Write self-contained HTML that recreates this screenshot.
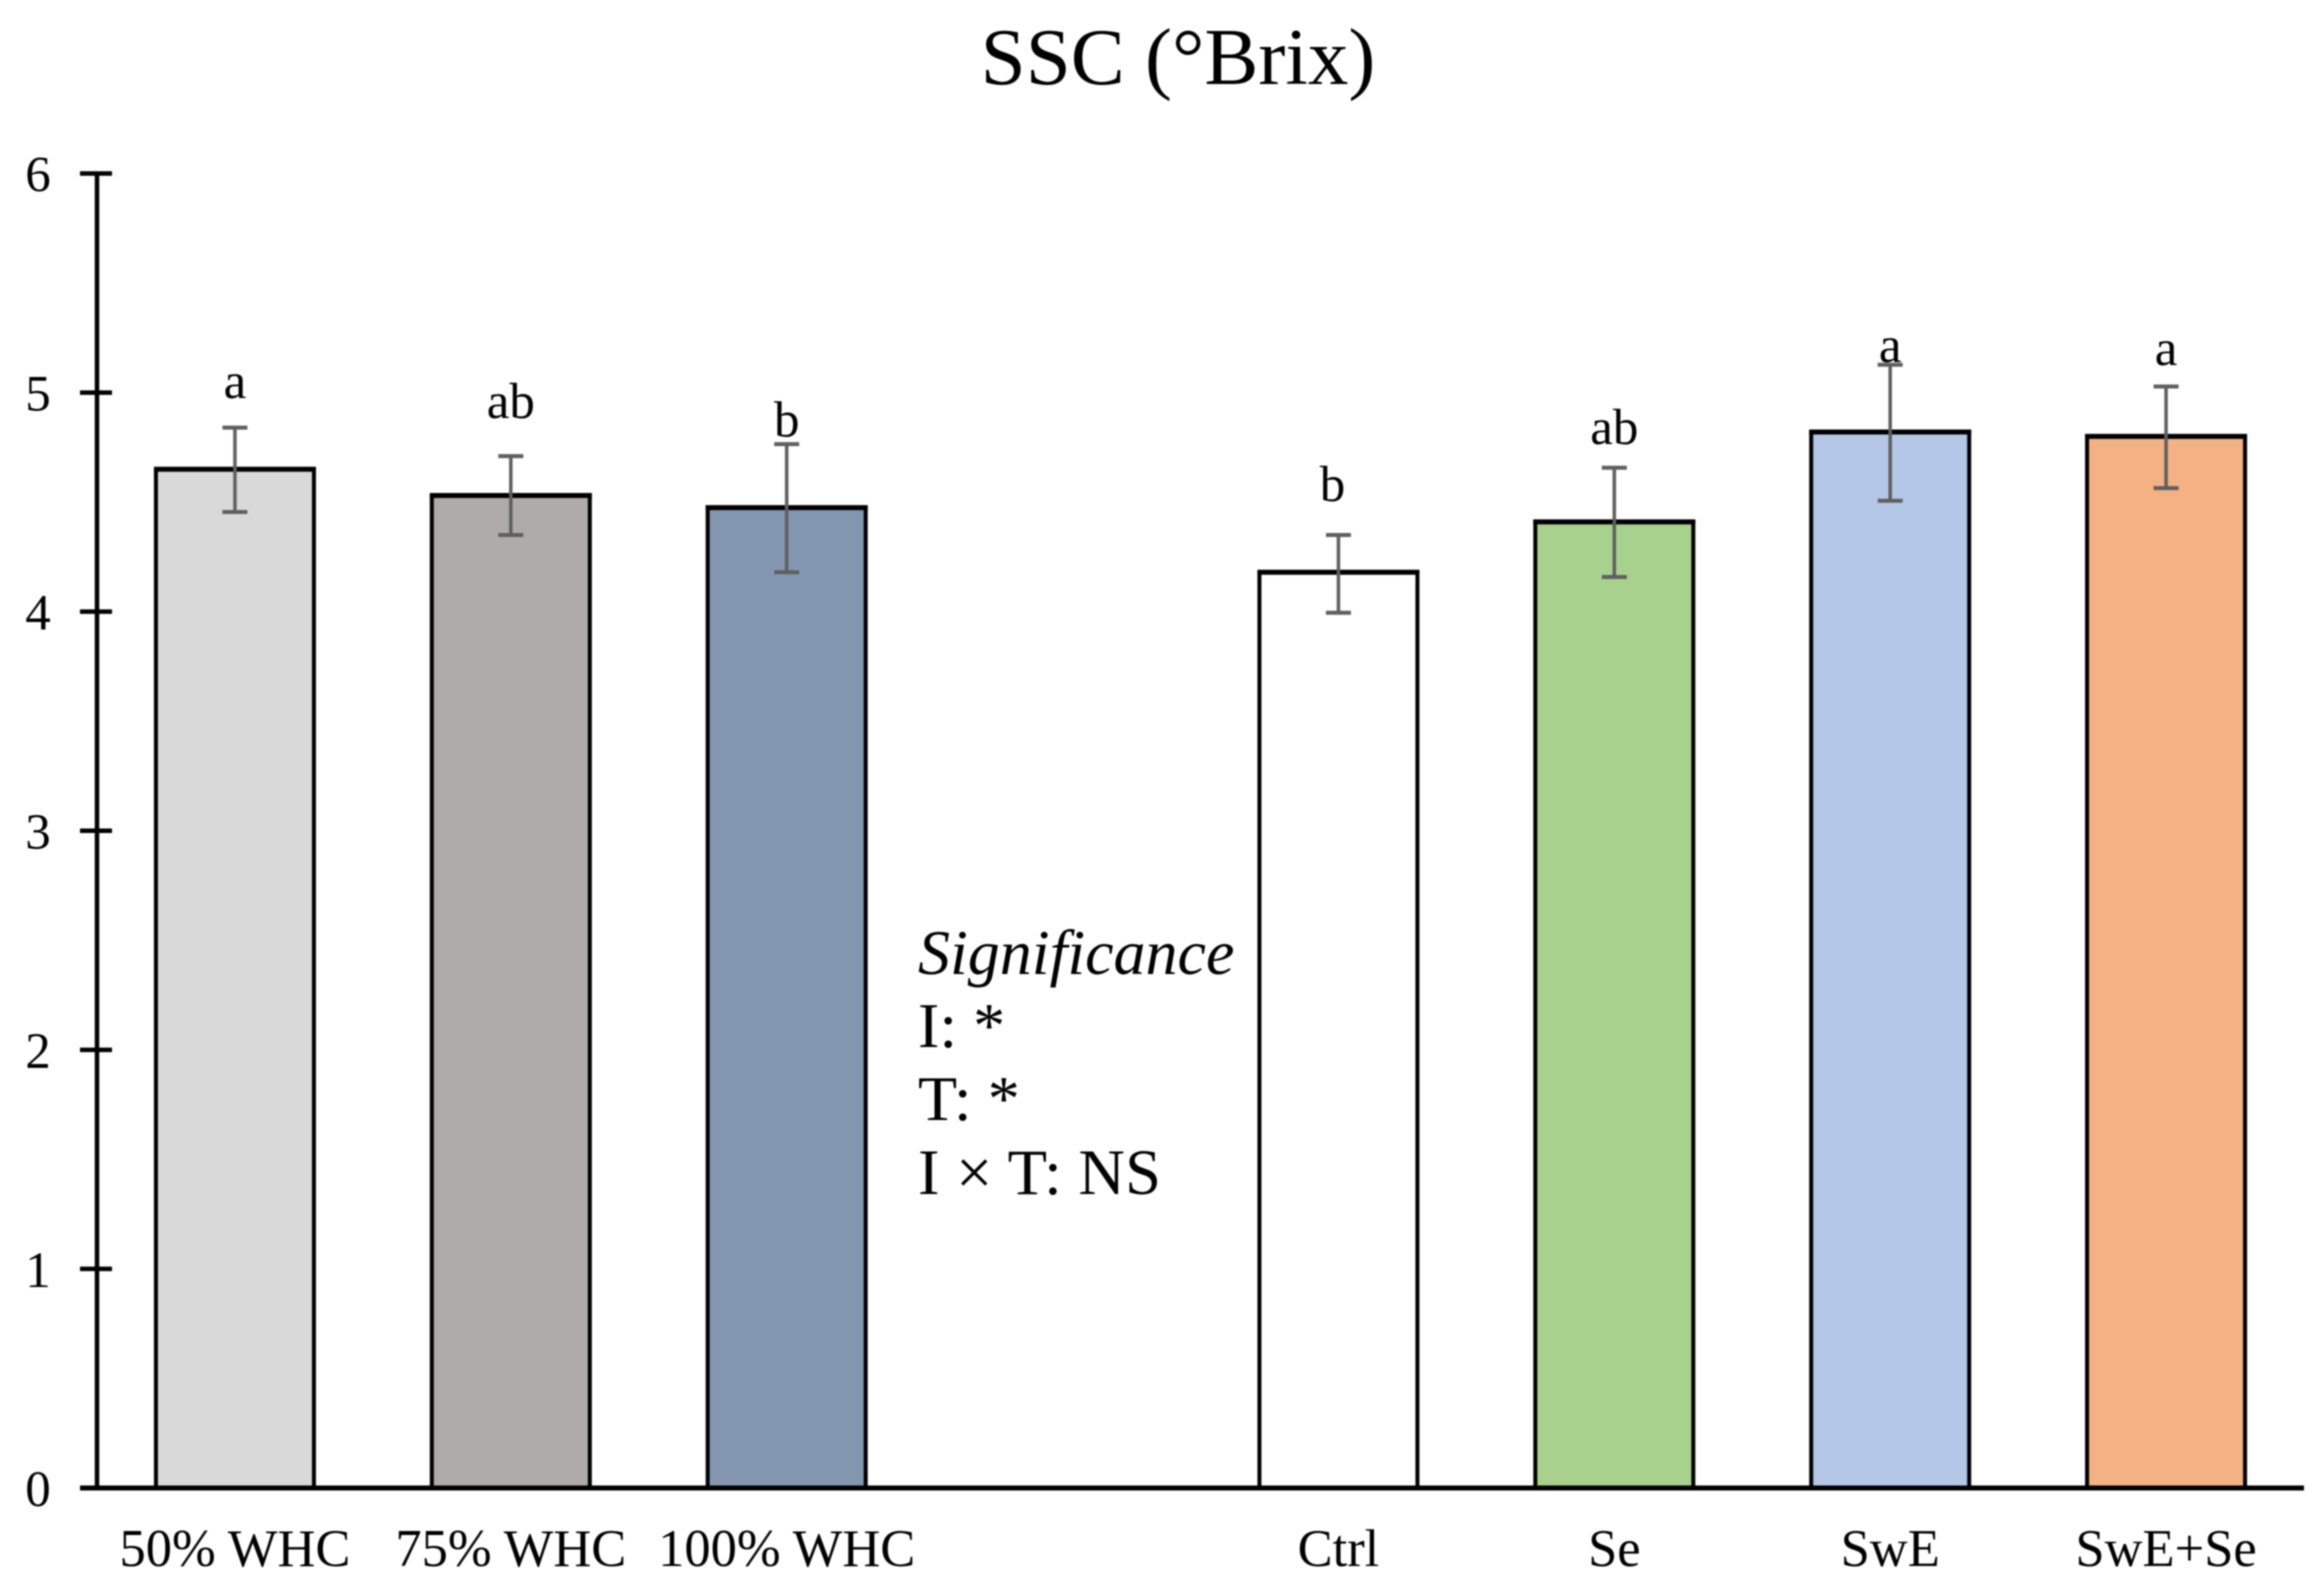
<!DOCTYPE html>
<html lang="en">
<head>
<meta charset="utf-8">
<title>SSC (°Brix)</title>
<style>
  html, body { margin: 0; padding: 0; background: #fff; width: 2320px; height: 1589px; overflow: hidden; }
  svg { display: block; filter: blur(0.7px); }
  text { font-family: "Liberation Serif", "Times New Roman", serif; fill: #000; }
</style>
</head>
<body>
<svg id="chart" xmlns="http://www.w3.org/2000/svg" width="2320" height="1589" viewBox="0 0 2320 1589">
  <rect x="0" y="0" width="2320" height="1589" fill="#ffffff"/>
  <text x="1178" y="84" font-size="81" text-anchor="middle">SSC (°Brix)</text>
  <g>
    <text x="918" y="974" font-size="64" font-style="italic">Significance</text>
    <text x="918" y="1047" font-size="64">I: *</text>
    <text x="918" y="1120" font-size="64">T: *</text>
    <text x="918" y="1194" font-size="64.5" textLength="243" lengthAdjust="spacing">I × T: NS</text>
  </g>
</svg>
<script>
const categories = ["50% WHC", "75% WHC", "100% WHC", "", "Ctrl", "Se", "SwE", "SwE+Se"];
const values = [4.65, 4.53, 4.475, null, 4.18, 4.41, 4.82, 4.80];
const errorHigh = [4.84, 4.71, 4.765, null, 4.35, 4.657, 5.127, 5.028];
const errorLow = [4.455, 4.35, 4.18, null, 3.995, 4.158, 4.506, 4.564];
const letters = ["a", "ab", "b", "", "b", "ab", "a", "a"];
const letterValues = [4.975, 4.885, 4.80, null, 4.505, 4.765, 5.14, 5.125];
const barColors = ["#d9d9d9", "#afabab", "#8497b0", "none", "#ffffff", "#a9d18e", "#b4c7e7", "#f4b183"];
const yTicks = [0, 1, 2, 3, 4, 5, 6];

const svg = document.getElementById('chart');
const NS = 'http://www.w3.org/2000/svg';
const plot = { left: 97, right: 2304, top: 173.5, bottom: 1488, yMax: 6 };
const slot = (plot.right - plot.left) / categories.length;
const barWidth = 158;
const capWidth = 25;

function xScale(i) { return plot.left + slot * (i + 0.5); }
function yScale(v) { return plot.bottom - (v / plot.yMax) * (plot.bottom - plot.top); }
function make(tag, attrs, parent) {
  const el = document.createElementNS(NS, tag);
  for (const k in attrs) el.setAttribute(k, attrs[k]);
  parent.appendChild(el);
  return el;
}

const barsGroup = make('g', {}, svg);


const errorsGroup = make('g', {}, svg);


const lettersGroup = make('g', {}, svg);


const xLabelGroup = make('g', {}, svg);


const yAxisGroup = make('g', {}, svg);



categories.forEach(function (cat, i) {
  if (values[i] === null) return;
  const cx = xScale(i);
  const top = yScale(values[i]);

  const bar = make('rect', { x: cx - barWidth / 2, y: top, width: barWidth, height: plot.bottom - top, fill: barColors[i], stroke: '#000', 'stroke-width': 4 }, barsGroup);
  
  

  const barTop = make('line', { x1: cx - barWidth / 2 - 2, x2: cx + barWidth / 2 + 2, y1: top, y2: top, stroke: '#000', 'stroke-width': 5 }, barsGroup);
  
  

  const yHi = yScale(errorHigh[i]);
  const yLo = yScale(errorLow[i]);
  const stem = make('line', { x1: cx, x2: cx, y1: yHi, y2: yLo, stroke: '#5f5f5f', 'stroke-width': 3.5 }, errorsGroup);
  
  
  const capTop = make('line', { x1: cx - capWidth / 2, x2: cx + capWidth / 2, y1: yHi, y2: yHi, stroke: '#5f5f5f', 'stroke-width': 4 }, errorsGroup);
  
  
  const capBottom = make('line', { x1: cx - capWidth / 2, x2: cx + capWidth / 2, y1: yLo, y2: yLo, stroke: '#5f5f5f', 'stroke-width': 4 }, errorsGroup);
  
  

  const letterX = cat === 'Ctrl' ? cx - 6 : cx;
  const letter = make('text', { x: letterX, y: yScale(letterValues[i]), 'font-size': 51, 'text-anchor': 'middle' }, lettersGroup);
  
  
  letter.textContent = letters[i];

  const label = make('text', { x: cx, y: 1566, 'font-size': 52.5, 'text-anchor': 'middle' }, xLabelGroup);
  
  
  label.textContent = cat;
});

const yLine = make('line', { x1: plot.left, x2: plot.left, y1: plot.top, y2: plot.bottom, stroke: '#000', 'stroke-width': 4.5 }, yAxisGroup);



yTicks.forEach(function (t) {
  const y = yScale(t);
  const tick = make('line', { x1: 80, x2: t === 0 ? plot.left : 112, y1: y, y2: y, stroke: '#000', 'stroke-width': 4.5 }, yAxisGroup);
  
  
  const tl = make('text', { x: 38, y: y + 18, 'font-size': 51, 'text-anchor': 'middle' }, yAxisGroup);
  
  
  tl.textContent = String(t);
});

const xLine = make('line', { x1: 80, x2: plot.right, y1: plot.bottom, y2: plot.bottom, stroke: '#000', 'stroke-width': 5 }, svg);


</script>
</body>
</html>
